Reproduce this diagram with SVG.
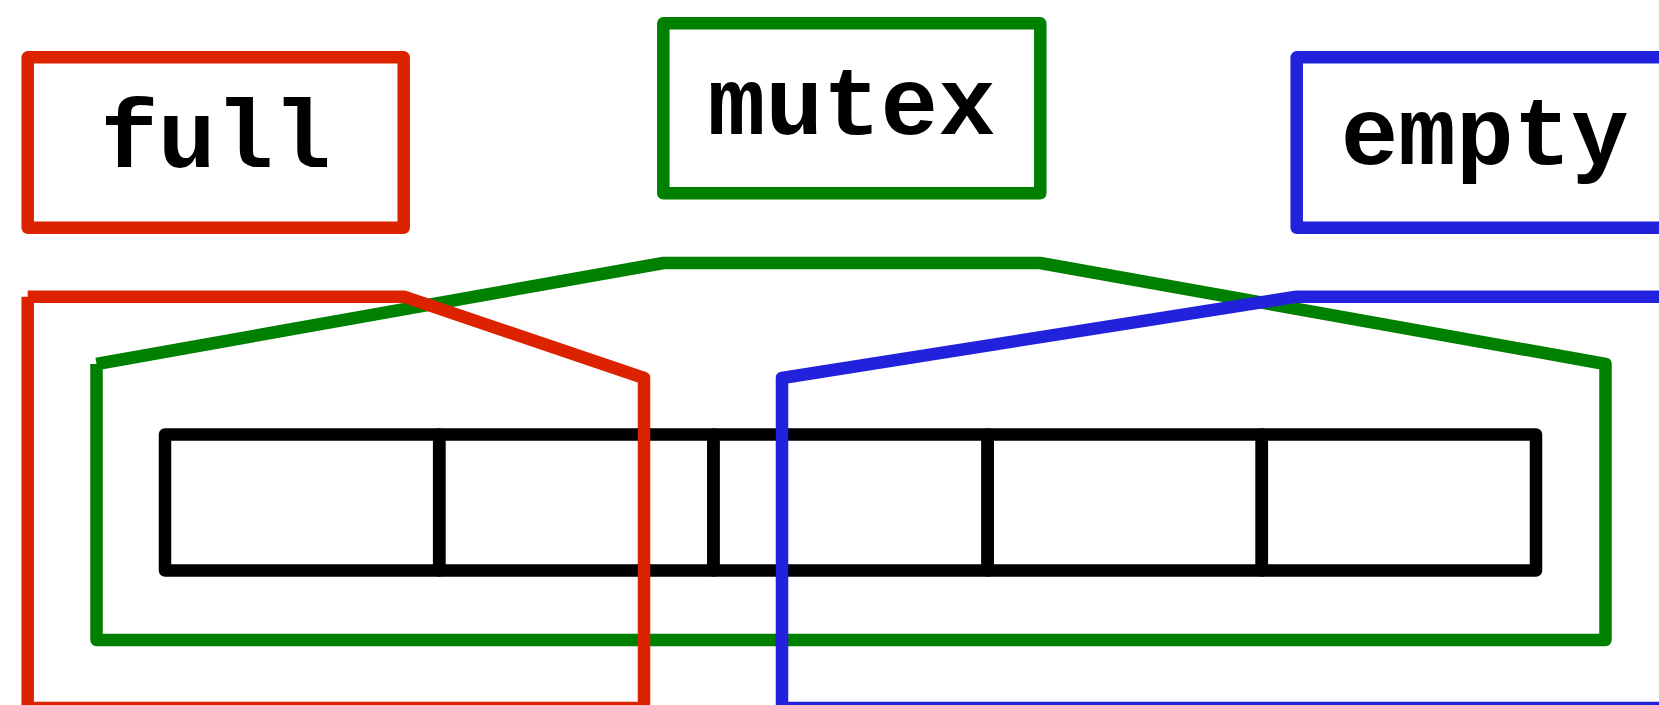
<svg xmlns="http://www.w3.org/2000/svg" width="1659" height="705" viewBox="0 0 1659 705">
<style>
.box{fill:none;stroke-width:12.5;stroke-linejoin:round}
.lbl{font-family:"Liberation Mono","Courier New",monospace;font-weight:bold;font-size:96px;fill:#000;text-anchor:middle}
.red{stroke:#dd2200}
.green{stroke:#008000}
.blue{stroke:#2222dd}
.wire{fill:none;stroke-width:12.5;stroke-linejoin:round;stroke-linecap:butt}
.cell{fill:none;stroke:#000;stroke-width:12.5;stroke-linejoin:round}
</style>
<rect width="1659" height="705" fill="#fff"/>
<g id="full">
<rect class="box red" x="27.7" y="57.3" width="376" height="170.5"/>
<text class="lbl" x="215.7" y="167">full</text>
</g>
<g id="mutex">
<rect class="box green" x="663.3" y="23.3" width="377" height="170"/>
<text class="lbl" x="851.8" y="134">mutex</text>
</g>
<g id="empty">
<rect class="box blue" x="1296.7" y="57.3" width="376" height="170.5"/>
<text class="lbl" x="1484.7" y="164">empty</text>
</g>
<g id="buffer">
<rect class="cell" x="165" y="434.5" width="274.2" height="136"/>
<rect class="cell" x="439.2" y="434.5" width="274.2" height="136"/>
<rect class="cell" x="713.4" y="434.5" width="274.2" height="136"/>
<rect class="cell" x="987.6" y="434.5" width="274.2" height="136"/>
<rect class="cell" x="1261.8" y="434.5" width="274.2" height="136"/>
</g>
<g id="connectors">
<path class="wire green" d="M96.5 364 L663.5 263 L1040 263 L1605.5 364 L1605.5 640 L96.5 640 L96.5 364"/>
<path class="wire red" d="M27.7 296.7 L404 296.7 L644 378 L644 708 L27.7 708 L27.7 296.7"/>
<path class="wire blue" d="M1680 296.7 L1296.7 296.7 L782 378 L782 708 L1680 708"/>
</g>
</svg>
